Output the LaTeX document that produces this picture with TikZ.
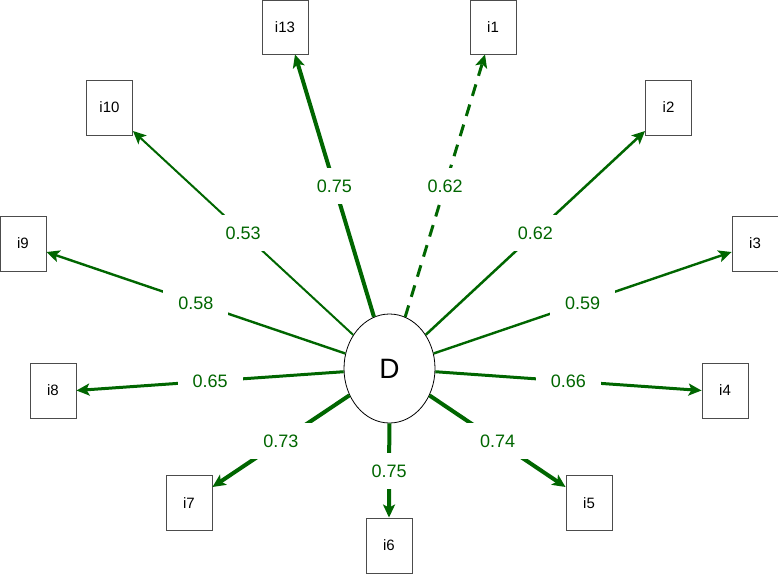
\documentclass[tikz,border=0pt]{standalone}
\usepackage{fontspec}
\setmainfont{Liberation Sans}
\usetikzlibrary{arrows.meta,calc,shapes.geometric}
\definecolor{edgegreen}{HTML}{006600}
\begin{document}
\begin{tikzpicture}[x=1pt,y=-1pt,
  item/.style={draw=black!70, line width=0.9pt, minimum width=46pt, minimum height=55pt, inner sep=0pt, font=\fontsize{15}{18}\selectfont},
  link/.style={draw=edgegreen, -{Stealth[length=13pt,width=12pt,inset=3pt]}},
  lbl/.style={fill=white, text=edgegreen, font=\fontsize{18}{21}\selectfont, inner xsep=15pt, inner ysep=11.5pt, text height=13pt, text depth=0pt, pos=0.5}]
\useasboundingbox (0,0) rectangle (778,573);
\node[ellipse, draw=black, line width=0.8pt, minimum width=91pt, minimum height=109pt, inner sep=0pt, font=\fontsize{28}{32}\selectfont] (D) at (389.5,368.5) {D};
\node[item, minimum height=54pt] (i13) at (285,27) {i13};
\node[item, minimum height=54pt] (i1) at (493,27) {i1};
\node[item] (i10) at (109.5,107.5) {i10};
\node[item] (i2) at (668.5,107.5) {i2};
\node[item] (i9) at (23,243.5) {i9};
\node[item] (i3) at (755,243.5) {i3};
\node[item] (i8) at (53,390.5) {i8};
\node[item] (i4) at (725,390.5) {i4};
\node[item] (i7) at (189,503) {i7};
\node[item] (i5) at (589,503) {i5};
\node[item] (i6) at (389,545.5) {i6};
\coordinate (t13) at ($(i13.south)+(10,0)$);
\coordinate (t1) at ($(i1.south)+(-8,0)$);
\coordinate (t10) at ($(i10.east)+(0,23.5)$);
\coordinate (t2) at ($(i2.west)+(0,23.5)$);
\coordinate (t9) at ($(i9.east)+(0,8.5)$);
\coordinate (t3) at ($(i3.west)+(0,8.5)$);
\coordinate (t7) at ($(i7.east)+(0,-16)$);
\coordinate (t5) at ($(i5.west)+(0,-16)$);
\draw[link, line width=4pt] (D) -- node[lbl] {0.75} (t13);
\draw[link, line width=3pt, dash pattern=on 12pt off 9pt] (D) -- node[lbl] {0.62} (t1);
\draw[link, line width=2pt] (D) -- node[lbl] {0.53} (t10);
\draw[link, line width=2.5pt] (D) -- node[lbl] {0.62} (t2);
\draw[link, line width=2.4pt] (D) -- node[lbl] {0.58} (t9);
\draw[link, line width=2.4pt] (D) -- node[lbl] {0.59} (t3);
\draw[link, line width=3pt] (D) -- node[lbl] {0.65} (i8.east);
\draw[link, line width=3pt] (D) -- node[lbl] {0.66} (i4.west);
\draw[link, line width=4pt] (D) -- node[lbl] {0.73} (t7);
\draw[link, line width=4pt] (D) -- node[lbl] {0.74} (t5);
\draw[link, line width=4pt] (D) -- node[lbl, pos=0.51] {0.75} (i6.north);
\end{tikzpicture}
\end{document}
